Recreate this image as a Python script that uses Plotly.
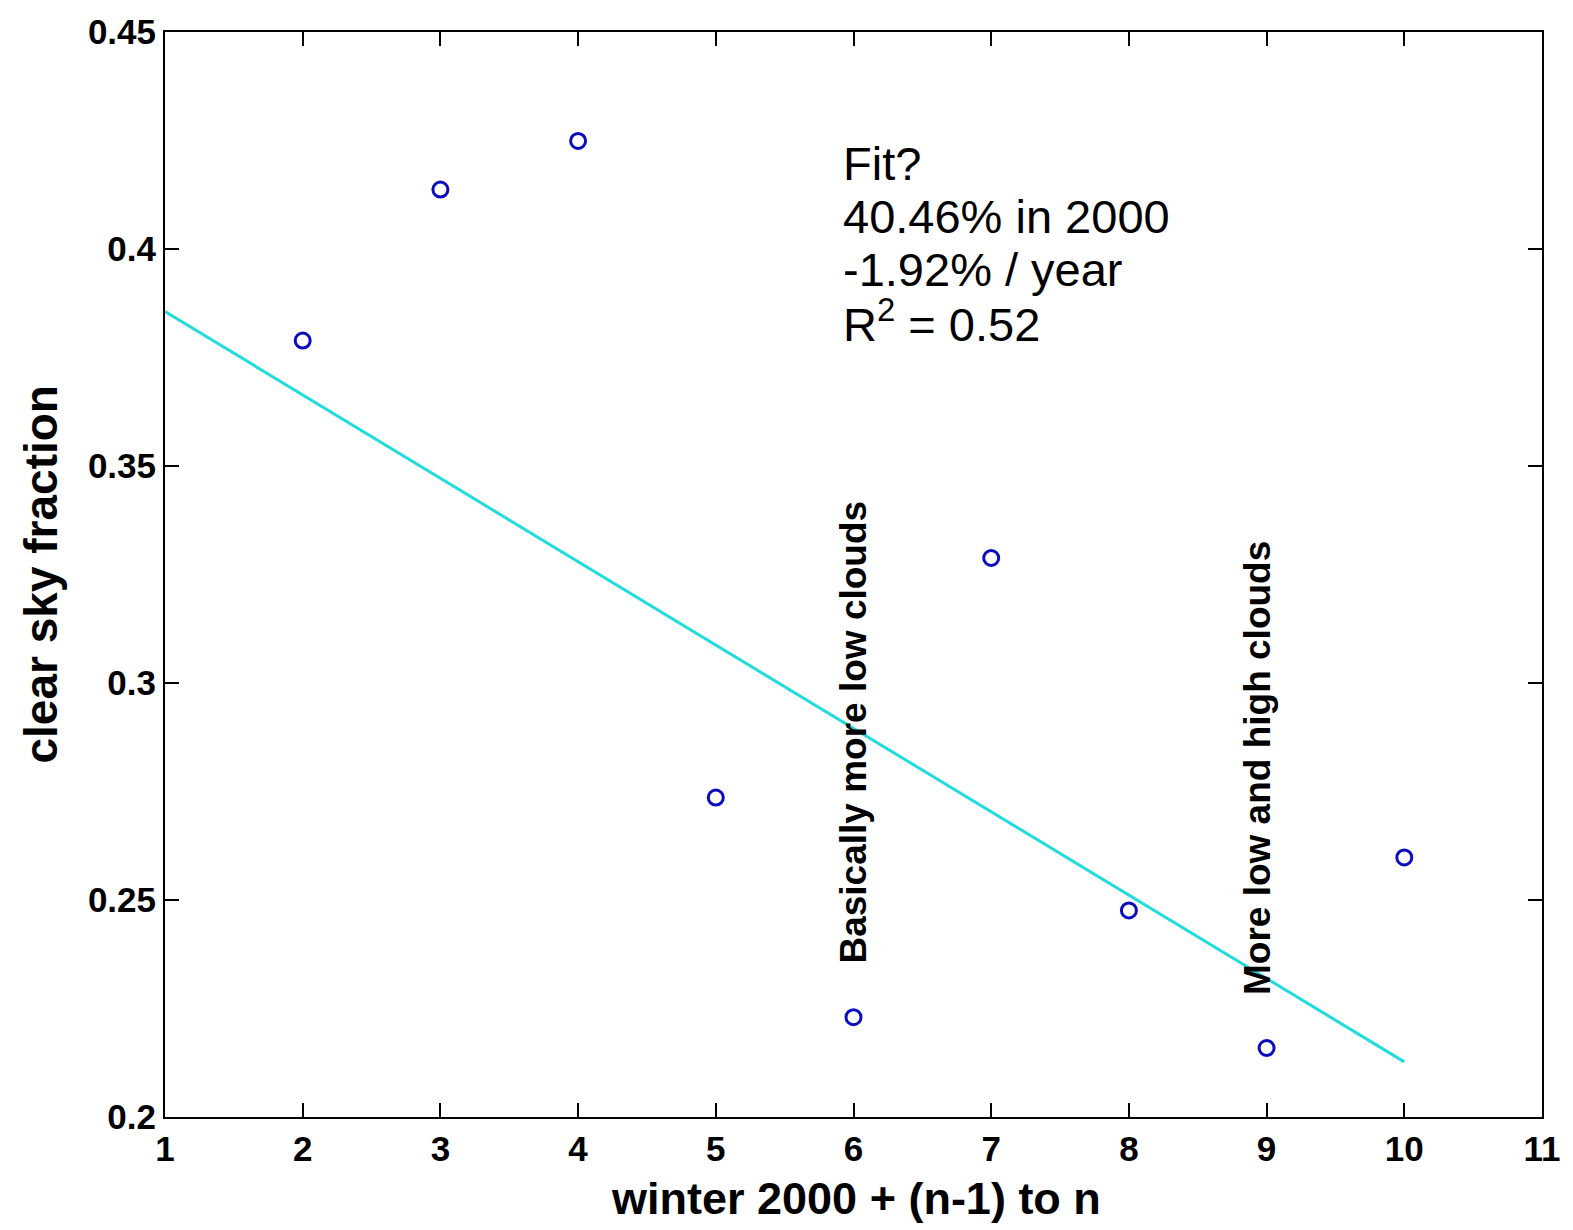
import plotly.graph_objects as go

# Data
winter_n = [2, 3, 4, 5, 6, 7, 8, 9, 10]
clear_sky_fraction = [0.3789, 0.4137, 0.4249, 0.2736, 0.2230, 0.3288, 0.2476, 0.2159, 0.2598]
fit_x = [1, 10]
fit_y = [0.3856, 0.2127]

x_ticks = [1, 2, 3, 4, 5, 6, 7, 8, 9, 10, 11]
y_ticks = [0.2, 0.25, 0.3, 0.35, 0.4, 0.45]
y_tick_labels = ["0.2", "0.25", "0.3", "0.35", "0.4", "0.45"]

fit_text_lines = ["Fit?", "40.46% in 2000", "-1.92% / year", "R<sup>2</sup> = 0.52"]
fit_text_y = [0.4196, 0.4075, 0.3953, 0.3833]

FONT = "Liberation Sans, Arial, sans-serif"

fig = go.Figure()
fig.add_trace(go.Scatter(
    x=fit_x, y=fit_y, mode="lines",
    line=dict(color="#22dcdc", width=3),
    showlegend=False, hoverinfo="skip",
))
fig.add_trace(go.Scatter(
    x=winter_n, y=clear_sky_fraction, mode="markers",
    marker=dict(symbol="circle-open", size=15, color="#0c0cbf", line=dict(width=3, color="#0c0cbf")),
    showlegend=False,
))

axis_common = dict(
    showgrid=False, zeroline=False,
    showline=True, linecolor="black", linewidth=2, mirror="ticks",
    ticks="inside", ticklen=14, tickwidth=1.5, tickcolor="black",
    tickfont=dict(family=FONT, size=35, color="black", weight="bold"),
)

fig.update_xaxes(range=[1, 11], tickvals=x_ticks, ticktext=[str(v) for v in x_ticks], **axis_common)
fig.update_yaxes(range=[0.2, 0.45], tickvals=y_ticks, ticktext=y_tick_labels, **axis_common)

annotations = []
for t, yv in zip(fit_text_lines, fit_text_y):
    annotations.append(dict(x=5.91, y=yv, xref="x", yref="y", text=t, showarrow=False,
                            xanchor="left", yanchor="middle",
                            font=dict(family=FONT, size=47, color="black")))

annotations.append(dict(x=6.0, y=0.2887, xref="x", yref="y", text="<b>Basically more low clouds</b>",
                        showarrow=False, textangle=-90, xanchor="center", yanchor="middle",
                        font=dict(family=FONT, size=37, color="black")))
annotations.append(dict(x=8.93, y=0.2804, xref="x", yref="y", text="<b>More low and high clouds</b>",
                        showarrow=False, textangle=-90, xanchor="center", yanchor="middle",
                        font=dict(family=FONT, size=37, color="black")))

annotations.append(dict(x=0.502, y=0, xref="paper", yref="paper", text="<b>winter 2000 + (n-1) to n</b>",
                        showarrow=False, xanchor="center", yanchor="middle", yshift=-81,
                        font=dict(family=FONT, size=45, color="black")))
annotations.append(dict(x=0, y=0.5, xref="paper", yref="paper", text="<b>clear sky fraction</b>",
                        showarrow=False, textangle=-90, xanchor="center", yanchor="middle", xshift=-125,
                        font=dict(family=FONT, size=46, color="black")))

fig.update_layout(
    width=1573, height=1230,
    margin=dict(l=165, r=27, t=30, b=113),
    paper_bgcolor="white", plot_bgcolor="white",
    annotations=annotations,
)

fig.write_html("out.html")
